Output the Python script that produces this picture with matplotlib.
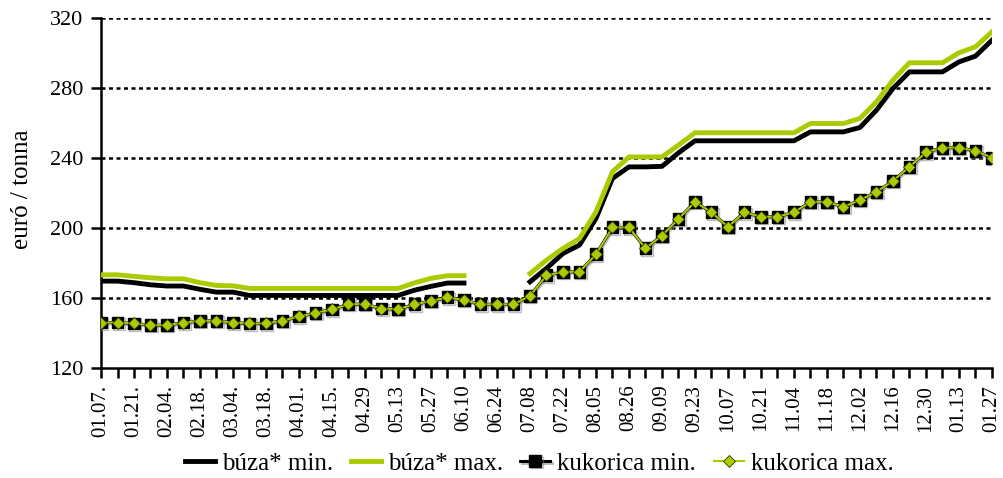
import numpy as np
import matplotlib
matplotlib.use('Agg')
import matplotlib.pyplot as plt
import matplotlib.patheffects as pe

nan = np.nan

# weekly prices, euro/tonna (55 weeks, labels every 2nd week)
tick_labels = ['01.07.', '01.21.', '02.04.', '02.18.', '03.04.', '03.18.', '04.01.',
               '04.15.', '04.29', '05.13', '05.27', '06.10', '06.24', '07.08',
               '07.22', '08.05', '08.26', '09.09', '09.23', '10.07', '10.21',
               '11.04', '11.18', '12.02', '12.16', '12.30', '01.13', '01.27']

buza_min = [169.7, 169.7, 168.8, 167.6, 166.9, 166.9, 165, 163.4, 163.4, 161.5,
            161.5, 161.5, 161.5, 161.5, 161.5, 161.5, 161.5, 161.5, 161.5, 164.5,
            166.7, 168.6, 168.6, nan, nan, nan, 169.3, 177, 185.5, 190.3,
            205.5, 228.4, 235, 235, 235.3, 243, 249.9, 249.9, 249.9, 249.9,
            249.9, 249.9, 249.9, 255, 255, 255, 257.5, 267.4, 279.8, 289.3,
            289.3, 289.3, 295, 298.3, 307.4]

buza_max = [173.3, 173.3, 172.4, 171.6, 171, 171, 168.8, 167.2, 167, 165.5,
            165.5, 165.5, 165.5, 165.5, 165.5, 165.5, 165.5, 165.5, 165.5, 168.7,
            171.3, 172.8, 172.8, nan, nan, nan, 174, 181.7, 188.4, 194,
            209.3, 232.2, 240.7, 240.7, 240.7, 247.4, 254.5, 254.5, 254.5, 254.5,
            254.5, 254.5, 254.5, 259.8, 259.8, 259.8, 262.7, 272.2, 284.6, 294.5,
            294.5, 294.5, 300.2, 303.6, 312.2]

kukorica_min = [146, 146, 145.5, 144.5, 144.5, 146, 147, 147, 146, 145.5,
                145.5, 147, 149.5, 151.5, 153.5, 156.5, 156.5, 154, 153.7, 156.4,
                158.3, 160.4, 158.9, 156.4, 156.4, 156.4, 161.3, 173, 175, 175,
                185, 200.4, 200.4, 188.4, 195.7, 205.3, 215, 209, 200.7, 209,
                206.5, 206.5, 209, 215, 215, 212.2, 216, 220.7, 227, 235,
                243.3, 246, 246, 244.2, 240.2]

kukorica_max = list(kukorica_min)

green = '#a8cc00'
font = 'Liberation Serif'
plt.rcParams['font.family'] = [font, 'DejaVu Serif']

x = np.arange(len(buza_min))

fig = plt.figure(figsize=(10.04, 4.78), dpi=100)
ax = fig.add_axes([0.1006, 0.230, 0.8874, 0.732])

for yv in [160, 200, 240, 280, 320]:
    ax.axhline(yv, color='black', lw=1.8, ls=(0, (1.6, 1.4)), zorder=1)

ax.plot(x, buza_min, color='black', lw=3.5, label='búza* min.', zorder=3)
ax.plot(x, buza_max, color=green, lw=3.5, label='búza* max.', zorder=3)

shadow = [pe.SimpleLineShadow(offset=(1, -1), shadow_color='gray', alpha=0.5), pe.Normal()]
ax.plot(x, kukorica_min, color='black', lw=2.2, marker='s', ms=8.5,
        mfc='black', mec='black', label='kukorica min.', zorder=4,
        path_effects=shadow)
ax.plot(x, kukorica_max, color=green, lw=1.5, marker='D', ms=5.8,
        mfc=green, mec='#333300', mew=0.6, label='kukorica max.', zorder=5)

ax.set_xlim(0, len(x) - 1)
ax.set_ylim(120, 320)
ax.set_yticks(np.arange(120, 321, 40))
ax.set_xticks(x)
labels = [''] * len(x)
for i, t in enumerate(tick_labels):
    labels[2 * i] = t
ax.set_xticklabels(labels, rotation=90, fontsize=15)
ax.tick_params(axis='y', labelsize=16, length=7.5, width=1.8, direction='out', pad=5)
ax.tick_params(axis='x', length=7, width=1.8, direction='out', pad=5)

for s in ['top', 'right']:
    ax.spines[s].set_visible(False)
for s in ['left', 'bottom']:
    ax.spines[s].set_linewidth(1.8)
ax.spines['bottom'].set_zorder(6)

ax.set_ylabel('euró / tonna', fontsize=18)
ax.yaxis.set_label_coords(-0.076, 0.51)

fig.legend(loc='center', bbox_to_anchor=(0.537, 0.03), ncol=4,
           frameon=False, fontsize=18, handlelength=1.2, handletextpad=0.28,
           columnspacing=0.7)

plt.savefig('out.png', dpi=100)
